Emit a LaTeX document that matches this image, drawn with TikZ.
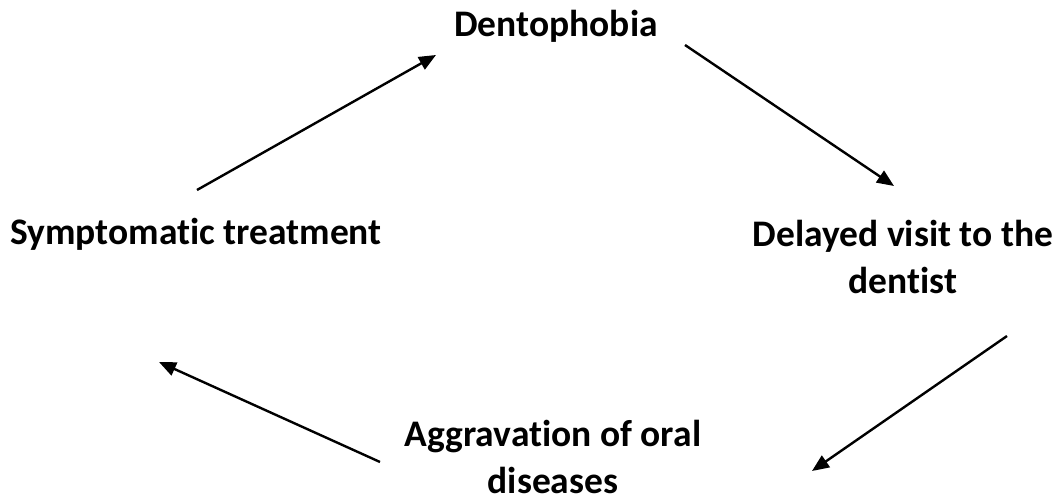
\documentclass[tikz,border=0pt]{standalone}
\usepackage{fontspec}
\setmainfont{Carlito}[RawFeature=-liga]
\usetikzlibrary{arrows.meta}
\begin{document}
\begin{tikzpicture}[x=1pt,y=-1pt,
  lbl/.style={font=\bfseries\fontsize{37.5}{47}\selectfont, inner sep=0pt, align=center, anchor=base},
  conn/.style={line width=2.4pt, -{Triangle[length=17pt,width=14pt]}}]
\useasboundingbox[fill=white] (0,0) rectangle (1063,502);
\node[lbl] (dento) at (556,37) {Dentophobia};
\node[lbl] (sympt) at (196,245) {Symptomatic treatment};
\node[lbl] (delay) at (903,294) {Delayed visit to the\\dentist};
\node[lbl] (aggr) at (553,493) {Aggravation of oral\\diseases};
\coordinate (s1) at (197,190); \coordinate (e1) at (436,55);
\coordinate (s2) at (685,45);  \coordinate (e2) at (894,186);
\coordinate (s3) at (1007,336); \coordinate (e3) at (812,471);
\coordinate (s4) at (380,462); \coordinate (e4) at (159,362);
\draw[conn] (s1) -- (e1);
\draw[conn] (s2) -- (e2);
\draw[conn] (s3) -- (e3);
\draw[conn] (s4) -- (e4);
\end{tikzpicture}
\end{document}
